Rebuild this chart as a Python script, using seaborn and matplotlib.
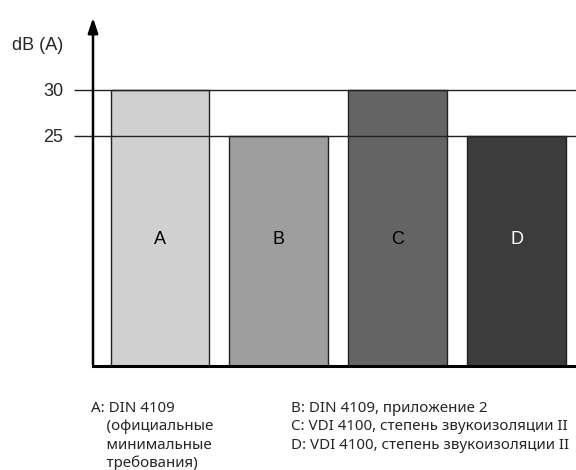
import matplotlib
matplotlib.use("Agg")
import matplotlib.pyplot as plt
import seaborn as sns

# данные
categories = ['A', 'B', 'C', 'D']
values = [30, 25, 30, 25]
bar_colors = ['#d0d0d0', '#9e9e9e', '#646464', '#3c3c3c']
letter_colors = ['black', 'black', 'black', 'white']
yticks = [25, 30]
legend_left = ["A: DIN 4109", "    (официальные", "    минимальные", "    требования)"]
legend_right = ["B: DIN 4109, приложение 2",
                "C: VDI 4100, степень звукоизоляции II",
                "D: VDI 4100, степень звукоизоляции II"]

sns.set_style("white")
plt.rcParams['font.family'] = ['Liberation Sans', 'DejaVu Sans']

fig = plt.figure(figsize=(5.76, 4.70), dpi=100)
# оси в пикселях: слева 93, справа 576, снизу 366, сверху 15
ax = fig.add_axes([93/576, (470-366)/470, (576-93)/576, (366-15)/470])

sns.barplot(x=categories, y=values, hue=categories, palette=bar_colors,
            legend=False, width=0.83, edgecolor='#222222', linewidth=1,
            saturation=1, ax=ax)

ax.set_xlim(-0.563, 3.5)
ax.set_ylim(0, 38.15)

for v in yticks:
    ax.axhline(v, color='#222222', lw=1, zorder=5)

for i, c in enumerate(categories):
    ax.text(i, 13.8, c, ha='center', va='center', fontsize=13,
            color=letter_colors[i], zorder=6)

ax.set_xticks([])
ax.set_yticks(yticks)
ax.set_yticklabels([str(v) for v in yticks], fontsize=13)
ax.tick_params(axis='y', direction='out', length=14, width=1, color='#222222', pad=7.5, left=True)
ax.set_xlabel('')
ax.set_ylabel('')

for s in ['top', 'right', 'left']:
    ax.spines[s].set_visible(False)
ax.spines['bottom'].set_color('black')
ax.spines['bottom'].set_linewidth(2.2)

# ось Y со стрелкой
ax.annotate('', xy=(0, 1.0), xycoords='axes fraction', xytext=(0, -0.004),
            textcoords='axes fraction',
            arrowprops=dict(arrowstyle='-|>,head_length=0.9,head_width=0.3',
                            color='black', lw=1.8), annotation_clip=False)

fig.text(12/576, 1 - 50/470, 'dB (A)', fontsize=13, ha='left', va='baseline',
         family=['Liberation Sans', 'DejaVu Sans'])

baselines = [412, 430.5, 449, 467]
for k, line in enumerate(legend_left):
    fig.text(91/576, 1 - baselines[k]/470, line, fontsize=10.9, ha='left', va='baseline',
             family='Noto Sans')
for k, line in enumerate(legend_right):
    fig.text(291/576, 1 - baselines[k]/470, line, fontsize=10.9, ha='left', va='baseline',
             family='Noto Sans')

fig.savefig('out.png', dpi=100)
